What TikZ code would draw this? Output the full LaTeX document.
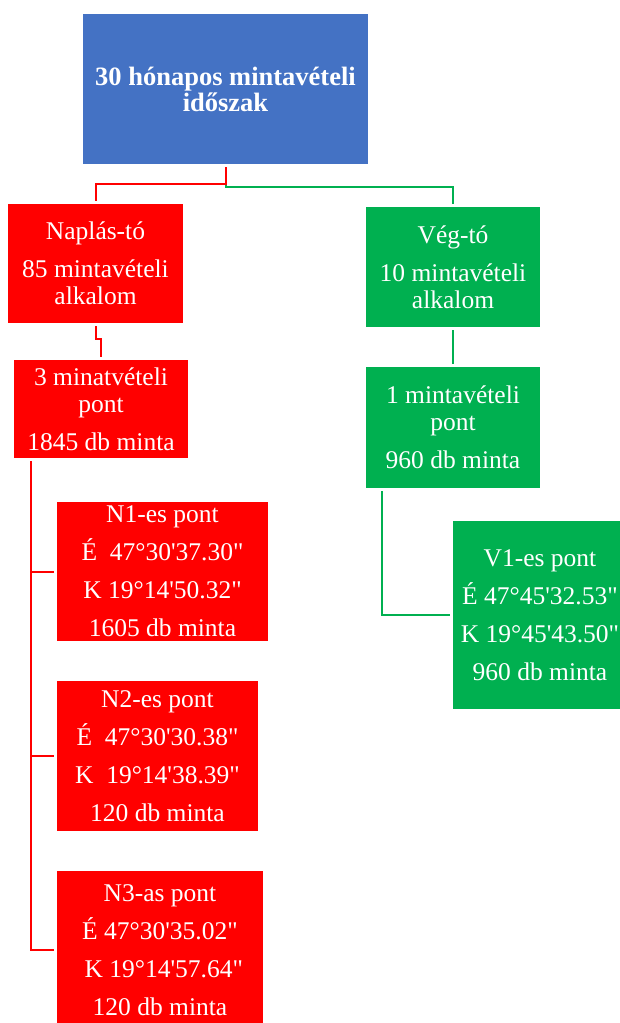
\documentclass[tikz,border=0pt]{standalone}
\usepackage{fontspec}
\setmainfont{Liberation Serif}[Ligatures=TeXOff]
\definecolor{boxblue}{HTML}{4472C4}
\definecolor{boxred}{HTML}{FF0000}
\definecolor{boxgreen}{HTML}{00B050}

\begin{document}
\begin{tikzpicture}[x=1pt, y=-1pt,
				box/.style={inner sep=0pt, align=center, text=white, font=\fontsize{25.5}{27}\selectfont},
				redbox/.style={box, fill=boxred},
				greenbox/.style={box, fill=boxgreen},
				pointbox/.style={font=\fontsize{25.5}{38}\selectfont},
				link/.style={line width=2pt, shorten <=3pt, shorten >=3pt}]
				\useasboundingbox (0,0) rectangle (620,1023);
				\clip (0,0) rectangle (620,1023);
				\node[box, fill=boxblue, minimum width=285, minimum height=150, font=\bfseries\fontsize{26.5}{26}\selectfont] (A)at(225.5, 89) {30 hónapos mintavételi\\időszak};
				\node[redbox, minimum width=175, minimum height=119] (B)at(95.5, 263.5) {Naplás-tó\\[11pt]85 mintavételi\\alkalom};
				\node[greenbox, minimum width=174, minimum height=120] (C)at(453, 267) {Vég-tó\\[11pt]10 mintavételi\\alkalom};
				\node[redbox, minimum width=174, minimum height=98] (D)at(101, 409) {3 minatvételi\\pont\\[11pt]1845 db minta};
				\node[greenbox, minimum width=174, minimum height=121] (E)at(453, 427.5) {1 mintavételi\\pont\\[11pt]960 db minta};
				\node[redbox, pointbox, minimum width=211, minimum height=139] (F)at(162.5, 571.5) {N1-es pont\\É\ \ 47°30'37.30"\\K 19°14'50.32"\\1605 db minta};
				\node[redbox, pointbox, minimum width=201, minimum height=150] (G)at(157.5, 756) {N2-es pont\\É\ \ 47°30'30.38"\\K\ \ 19°14'38.39"\\120 db minta};
				\node[redbox, pointbox, minimum width=206, minimum height=158] (H)at(160, 950) {N3-as pont\\É 47°30'35.02"\\\hspace*{0.3em}K 19°14'57.64"\\120 db minta};
				\node[greenbox, pointbox, minimum width=174, minimum height=188] (I)at(540, 615) {V1-es pont\\É 47°45'32.53"\\K 19°45'43.50"\\960 db minta};
				\draw[link, boxgreen] (A.south) -- ++(0,23) -| (C.north);
				\draw[link, boxred] (A.south) -- ++(0,20) -| (B.north);
				\draw[link, boxred] (B.south) -- ++(0,16) -| (D.north);
				\draw[link, boxgreen] (C.south) -- (E.north);
				\draw[link, boxred] ([xshift=17pt]D.south west) |- (F.west);
				\draw[link, boxred] ([xshift=17pt]D.south west) |- (G.west);
				\draw[link, boxred] ([xshift=17pt]D.south west) |- (H.west);
				\draw[link, boxgreen] ([xshift=16pt]E.south west) |- (I.west);
			\end{tikzpicture}
\end{document}
